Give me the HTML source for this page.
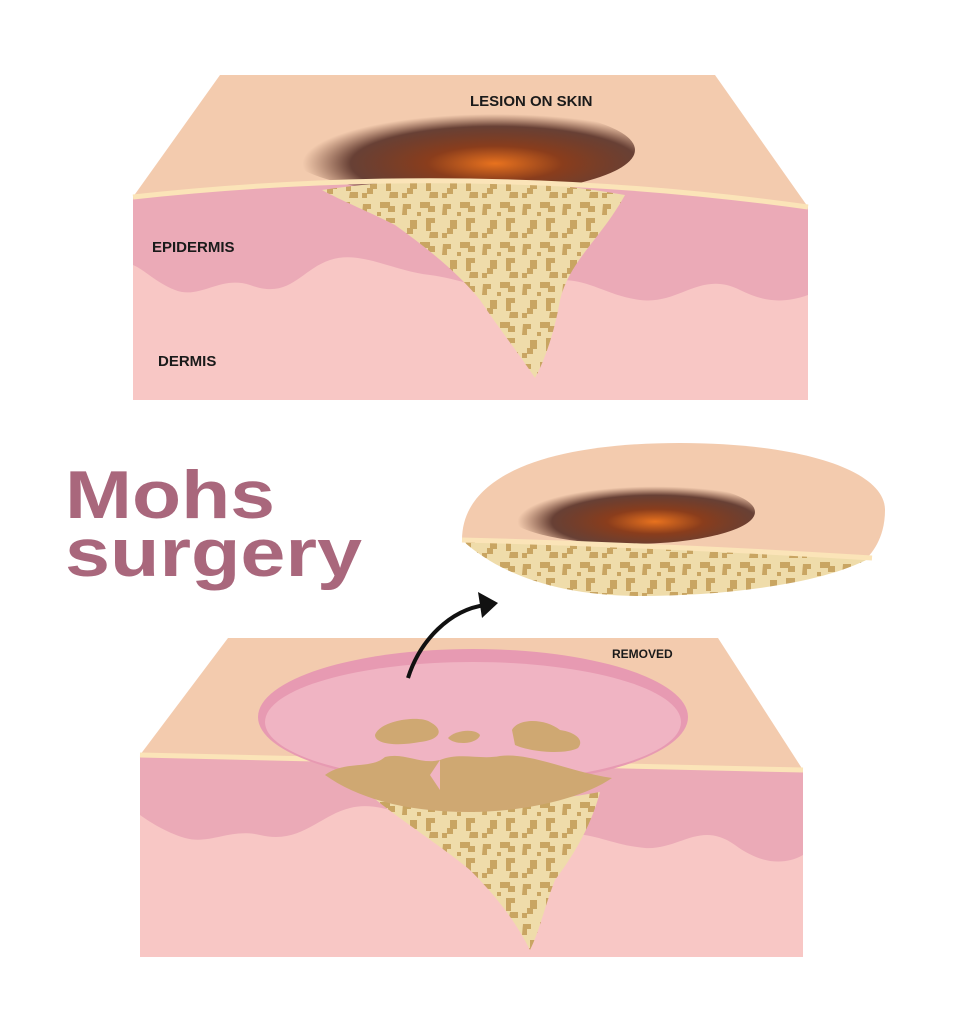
<!DOCTYPE html>
<html><head><meta charset="utf-8"><style>
html,body{margin:0;padding:0;background:#fff;width:953px;height:1024px;overflow:hidden}
svg{display:block}
text{font-family:"Liberation Sans",sans-serif;font-weight:bold}
</style></head><body>
<svg width="953" height="1024" viewBox="0 0 953 1024" xmlns="http://www.w3.org/2000/svg">
<defs>
<radialGradient id="les" cx="0.6" cy="0.65" r="0.55">
<stop offset="0" stop-color="#e8721e"/><stop offset="0.35" stop-color="#8a3d1c"/><stop offset="0.75" stop-color="#4f2820" stop-opacity="0.85"/><stop offset="1" stop-color="#6a3a2a" stop-opacity="0"/>
</radialGradient>
<pattern id="spots" width="40" height="40" patternUnits="userSpaceOnUse">
<rect width="40" height="40" fill="#efdcaa"/>
<path d="M3 4h8v5h-4v6h-5zM20 2h10v4h5v6h-7v-4h-8zM10 20h7v9h-4v5h-6v-6h3zM26 18h9v5h-4v8h-5zM30 32h8v6h-9zM2 33h5v5h-5zM17 12h4v4h-4z" fill="#c9a562"/>
</pattern>
</defs>
<!-- TOP BLOCK -->
<polygon points="133,197 220,75 715,75 808,207" fill="#f3cbae"/>
<path d="M133,197 Q470,160 808,207 L808,400 L133,400Z" fill="#f8c7c5"/>
<path d="M133,197 Q470,160 808,207 L808,295 C780,305 760,300 740,290 C700,270 680,305 640,300 C600,295 580,270 540,285 C500,300 470,280 430,275 C390,270 360,250 330,260 C300,270 290,300 250,285 C220,275 200,300 175,290 C155,282 145,270 133,265 Z" fill="#ebaab7"/>
<ellipse cx="460" cy="150" rx="175" ry="45" fill="url(#les)"/>
<path d="M322,190 Q470,168 625,195 C600,240 570,260 560,300 C555,330 545,360 535,378 C520,355 500,330 480,300 C460,275 430,250 395,225 C365,210 340,200 322,190 Z" fill="url(#spots)"/>
<path d="M133,197 Q470,160 808,207" fill="none" stroke="#fbe4b8" stroke-width="5"/>
<text x="470" y="106" font-size="15" fill="#1a1a1a">LESION ON SKIN</text>
<text x="152" y="252" font-size="15" fill="#1a1a1a">EPIDERMIS</text>
<text x="158" y="366" font-size="15" fill="#1a1a1a">DERMIS</text>
<!-- TITLE -->
<text x="65" y="518" font-size="68" fill="#a9677c" textLength="210" lengthAdjust="spacingAndGlyphs">Mohs</text>
<text x="65" y="576" font-size="68" fill="#a9677c" textLength="297" lengthAdjust="spacingAndGlyphs">surgery</text>
<!-- REMOVED PIECE -->
<path d="M462,540 C462,470 560,443 680,443 C800,443 885,470 885,510 C885,540 870,555 865,560 L462,540Z" fill="#f3cbae"/>
<ellipse cx="630" cy="512" rx="125" ry="32" fill="url(#les)"/>
<path d="M462,540 Q660,545 870,558 C820,585 720,596 640,596 C560,596 500,575 462,540Z" fill="url(#spots)"/>
<path d="M462,540 Q660,545 872,558" fill="none" stroke="#fbe4b8" stroke-width="5"/>
<!-- BOTTOM BLOCK -->
<polygon points="140,755 228,638 718,638 803,770" fill="#f3cbae"/>
<path d="M140,755 L803,770 L803,957 L140,957Z" fill="#f8c7c5"/>
<path d="M140,755 L803,770 L803,855 C780,868 755,860 735,845 C700,820 680,850 645,848 C610,845 590,830 560,835 C520,842 490,830 450,825 C410,820 380,800 350,808 C320,815 300,845 260,835 C230,828 210,845 185,838 C165,832 150,822 140,815Z" fill="#ebaab7"/>
<path d="M140,755 L803,770" stroke="#fbe4b8" stroke-width="5"/>
<path d="M370,795 C420,810 530,805 600,792 C590,830 570,860 555,880 C545,905 540,930 530,950 C515,920 495,895 470,870 C440,845 400,820 370,795Z" fill="url(#spots)"/>
<ellipse cx="473" cy="717" rx="215" ry="68" fill="#e79ab2"/>
<ellipse cx="473" cy="722" rx="208" ry="60" fill="#f0b4c3"/>
<path d="M325,775 C345,760 370,770 385,757 C405,752 420,765 440,760 C460,752 480,760 500,756 C530,752 570,772 612,778 C580,800 520,812 470,812 C410,812 360,800 325,775Z" fill="#cfa872"/>
<path d="M430,775 L440,790 L440,760Z" fill="#f0b4c3"/>
<path d="M375,735 C380,720 420,715 430,722 C445,730 440,740 420,742 C400,746 375,745 375,735Z" fill="#cfa872"/>
<path d="M448,738 C455,730 475,728 480,735 C478,744 455,746 448,738Z" fill="#cfa872"/>
<path d="M512,730 C518,718 545,718 560,730 C575,732 585,740 578,748 C565,755 530,752 515,745Z" fill="#cfa872"/>
<text x="612" y="658" font-size="12" fill="#1a1a1a">REMOVED</text>
<!-- ARROW -->
<path d="M408,678 C420,640 450,610 485,605" fill="none" stroke="#111" stroke-width="4"/>
<polygon points="498,603 478,592 482,618" fill="#111"/>
</svg>
</body></html>
